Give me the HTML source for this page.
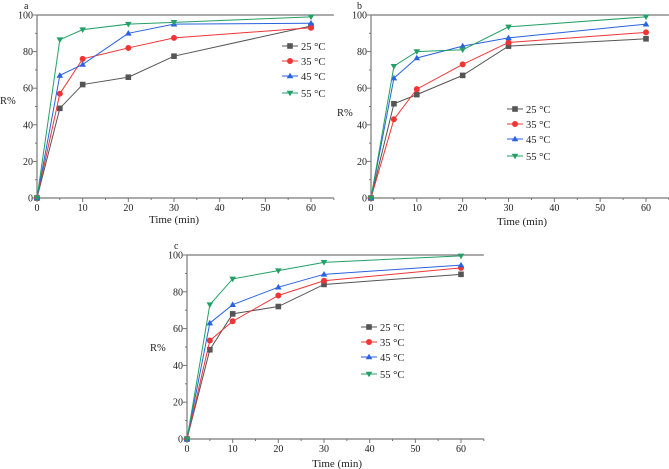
<!DOCTYPE html>
<html><head><meta charset="utf-8"><style>
html,body{margin:0;padding:0;background:#fff;}
svg{display:block;font-family:"Liberation Serif",serif;}
</style></head><body>
<svg id="chart" width="669" height="469" viewBox="0 0 669 469" xmlns="http://www.w3.org/2000/svg"></svg>
<script>
const times = [0, 5, 10, 20, 30, 60];
const seriesNames = ["25 °C", "35 °C", "45 °C", "55 °C"];
const xTicks = [0, 10, 20, 30, 40, 50, 60];
const yTicks = [0, 20, 40, 60, 80, 100];
const panelA25 = [0, 49, 62, 66, 77.5, 94];
const panelA35 = [0, 57, 76, 82, 87.5, 93];
const panelA45 = [0, 67, 73, 90, 95, 95.5];
const panelA55 = [0, 86.5, 92, 95, 96, 99];
const panelB25 = [0, 51.5, 56.5, 67, 83, 87];
const panelB35 = [0, 43, 59.5, 73, 85, 90.5];
const panelB45 = [0, 65.5, 76.5, 83, 87.5, 95];
const panelB55 = [0, 72, 80, 81, 93.5, 99];
const panelC25 = [0, 48.5, 68, 72, 84, 89.5];
const panelC35 = [0, 53.5, 64, 78, 86, 93];
const panelC45 = [0, 63, 73, 82.5, 89.5, 94.5];
const panelC55 = [0, 73, 87, 91.5, 96, 99.5];

const NS = "http://www.w3.org/2000/svg";
const svg = document.getElementById("chart");
const colors = ["#555555", "#f03535", "#2a62e0", "#22a066"];
const markers = ["square", "circle", "up", "down"];

function mk(tag, attrs, parent) {
  const e = document.createElementNS(NS, tag);
  for (const k in attrs) e.setAttribute(k, attrs[k]);
  (parent || svg).appendChild(e);
  return e;
}

function drawPanel(cfg) {
  const g = mk("g", {});
  
  
  const sx = v => cfg.x0 + (v / 60) * (cfg.x60 - cfg.x0);
  const sy = v => cfg.y0 - (v / 100) * (cfg.y0 - cfg.y100);
  const xEnd = sx(65);
  const ax = mk("path", {d: `M${cfg.x0},${cfg.y100}V${cfg.y0}H${xEnd}M${cfg.x0},${cfg.y100}H${xEnd}`, stroke: "#777", "stroke-width": 1.2, fill: "none"}, g);
  
  
  for (let v = 0; v <= 65; v += 5) {
    const len = v % 10 === 0 ? 4 : 2;
    mk("line", {x1: sx(v), x2: sx(v), y1: cfg.y0, y2: cfg.y0 + len, stroke: "#777", "stroke-width": 1}, g);
  }
  xTicks.forEach(v => {
    const t = mk("text", {x: sx(v), y: cfg.y0 + 13, "text-anchor": "middle", "font-size": 10, fill: "#222"}, g);
    t.textContent = v;
    
    
  });
  for (let v = 0; v <= 100; v += 10) {
    const len = v % 20 === 0 ? 4 : 2;
    mk("line", {x1: cfg.x0 - len, x2: cfg.x0, y1: sy(v), y2: sy(v), stroke: "#777", "stroke-width": 1}, g);
  }
  yTicks.forEach(v => {
    const t = mk("text", {x: cfg.x0 - 4, y: sy(v) + 3.5, "text-anchor": "end", "font-size": 10, fill: "#222"}, g);
    t.textContent = v;
    
    
  });
  const yt = mk("text", {x: cfg.yTitleX, y: cfg.yTitleY, "font-size": 10.5, fill: "#222"}, g);
  yt.textContent = "R%";
  
  
  const xt = mk("text", {x: cfg.xTitleX, y: cfg.xTitleY + 1, "text-anchor": "middle", "font-size": 11, fill: "#222"}, g);
  xt.textContent = "Time (min)";
  
  
  const pl = mk("text", {x: cfg.lx, y: cfg.ly, "font-size": 10, fill: "#222"}, g);
  pl.textContent = cfg.label;
  
  

  cfg.series.forEach((vals, i) => {
    const pts = vals.map((v, j) => sx(times[j]) + "," + sy(v)).join(" ");
    const line = mk("polyline", {points: pts, fill: "none", stroke: colors[i], "stroke-width": 1}, g);
    
    
    vals.forEach((v, j) => {
      const m = marker(g, markers[i], sx(times[j]), sy(v), colors[i]);
      
      
    });
    const ly = cfg.legY[i];
    const lg = mk("g", {}, g);
    
    
    mk("line", {x1: cfg.legX, x2: cfg.legX + 16, y1: ly, y2: ly, stroke: colors[i], "stroke-width": 1}, lg);
    marker(lg, markers[i], cfg.legX + 8, ly, colors[i]);
    const lt = mk("text", {x: cfg.legX + 19, y: ly + 4, "font-size": 10.5, fill: "#222"}, lg);
    lt.textContent = seriesNames[i];
  });
}

function marker(p, type, x, y, c) {
  const r = 2.8;
  if (type === "square") return mk("rect", {x: x - r, y: y - r, width: 2 * r, height: 2 * r, fill: c}, p);
  if (type === "circle") return mk("circle", {cx: x, cy: y, r: r + 0.2, fill: c}, p);
  if (type === "up") return mk("polygon", {points: `${x},${y - r - 0.5} ${x - r - 0.5},${y + r - 0.5} ${x + r + 0.5},${y + r - 0.5}`, fill: c}, p);
  return mk("polygon", {points: `${x},${y + r + 0.5} ${x - r - 0.5},${y - r + 0.5} ${x + r + 0.5},${y - r + 0.5}`, fill: c}, p);
}

drawPanel({label: "a", x0: 37, x60: 311, y0: 198, y100: 15, lx: 24, ly: 9,
  yTitleX: 0, yTitleY: 104, xTitleX: 174, xTitleY: 222,
  legX: 282, legY: [46, 61, 76, 93],
  series: [panelA25, panelA35, panelA45, panelA55]});
drawPanel({label: "b", x0: 371, x60: 646, y0: 198, y100: 15, lx: 357, ly: 9,
  yTitleX: 337, yTitleY: 116, xTitleX: 522, xTitleY: 224,
  legX: 507, legY: [109, 124, 139, 156],
  series: [panelB25, panelB35, panelB45, panelB55]});
drawPanel({label: "c", x0: 187, x60: 461, y0: 439, y100: 255, lx: 174, ly: 249,
  yTitleX: 150, yTitleY: 351, xTitleX: 337, xTitleY: 466,
  legX: 361, legY: [327, 342, 357, 374],
  series: [panelC25, panelC35, panelC45, panelC55]});
</script>
</body></html>
